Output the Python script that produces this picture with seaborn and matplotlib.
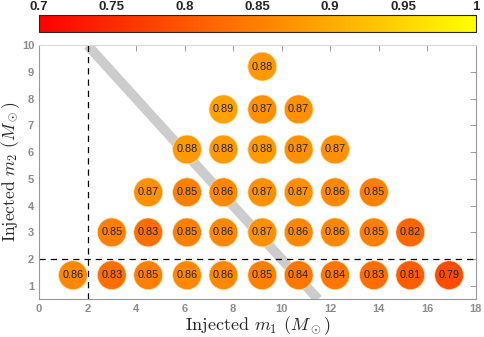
import numpy as np
import pandas as pd
import matplotlib
matplotlib.use("Agg")
import matplotlib.pyplot as plt
import seaborn as sns

# injected component masses (grid points)
masses = [1.4, 3.0, 4.5, 6.1, 7.6, 9.2, 10.7, 12.2, 13.8, 15.3, 16.9]

# match values per m2 row, starting at m1 = m2
row_m2_1_4 = [0.86, 0.83, 0.85, 0.86, 0.86, 0.85, 0.84, 0.84, 0.83, 0.81, 0.79]
row_m2_3_0 = [0.85, 0.83, 0.85, 0.86, 0.87, 0.86, 0.86, 0.85, 0.82]
row_m2_4_5 = [0.87, 0.85, 0.86, 0.87, 0.87, 0.86, 0.85]
row_m2_6_1 = [0.88, 0.88, 0.88, 0.87, 0.87]
row_m2_7_6 = [0.89, 0.87, 0.87]
row_m2_9_2 = [0.88]
rows = [row_m2_1_4, row_m2_3_0, row_m2_4_5, row_m2_6_1, row_m2_7_6, row_m2_9_2]

cbar_ticks = [0.7, 0.75, 0.8, 0.85, 0.9, 0.95, 1]

recs = []
for i, vals in enumerate(rows):
    for j, v in enumerate(vals):
        recs.append({"m1": masses[i + j], "m2": masses[i], "match": v})
df = pd.DataFrame(recs)

sns.set_style("white")
plt.rcParams["mathtext.fontset"] = "cm"
plt.rcParams["axes.unicode_minus"] = False

fig = plt.figure(figsize=(4.85, 3.37), dpi=100)
ax = fig.add_axes([0.0804, 0.112, 0.9006, 0.754])
cax = fig.add_axes([0.0804, 0.906, 0.9006, 0.0496])

norm = plt.Normalize(0.7, 1.0)
cmap = plt.get_cmap("autumn")

# m1 + m2 = 12 line
ax.plot([2, 11.5], [10, 0.5], color="0.8", lw=7, solid_capstyle="butt", zorder=1)
ax.axvline(2, color="k", ls=(0, (5, 4)), lw=0.9, zorder=2)
ax.axhline(2, color="k", ls=(0, (5, 4)), lw=0.9, zorder=2)

sns.scatterplot(data=df, x="m1", y="m2", hue="match", palette=cmap, hue_norm=norm,
                s=430, edgecolor="#ffe0b0", linewidth=0.5, legend=False, ax=ax, zorder=3)
for _, r in df.iterrows():
    ax.text(r.m1, r.m2, f"{r.match:.2f}", ha="center", va="center",
            fontsize=7.8, color="#222222", zorder=4, family="Liberation Sans")

ax.set_xlim(0, 18)
ax.set_ylim(0.5, 10)
ax.set_xticks(range(0, 19, 2))
ax.set_yticks(range(1, 11))
ax.tick_params(direction="in", length=4, width=0.6, colors="0.55", labelsize=8,
               top=True, right=True, labeltop=False, labelright=False)
for t in ax.get_xticklabels() + ax.get_yticklabels():
    t.set_fontweight("bold")
    t.set_family("Liberation Sans")
for sp in ax.spines.values():
    sp.set_color("0.6")
    sp.set_linewidth(0.8)
ax.spines["top"].set_color("0.85")

ax.set_xlabel(r"Injected $m_1$ ($M_\odot$)", family="cmr10", fontsize=13, labelpad=0)
ax.set_ylabel(r"Injected $m_2$ ($M_\odot$)", family="cmr10", fontsize=12.5, labelpad=0)

sm = matplotlib.cm.ScalarMappable(norm=norm, cmap=cmap)
cb = fig.colorbar(sm, cax=cax, orientation="horizontal", ticks=cbar_ticks)
cb.ax.xaxis.set_ticks_position("top")
cb.ax.tick_params(direction="in", length=4, width=0.6, color="0.3", labelsize=9.5, pad=1.5)
cb.ax.set_xticklabels([f"{t:g}" for t in cbar_ticks], fontweight="bold",
                      family="Liberation Sans")
cb.outline.set_linewidth(0.8)

fig.savefig("out.png", dpi=100)
